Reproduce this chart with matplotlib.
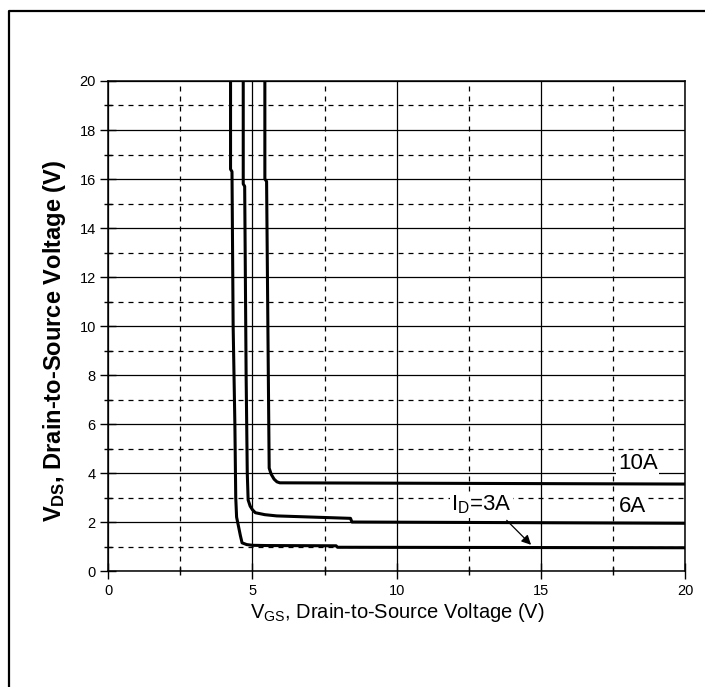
import matplotlib
matplotlib.use("Agg")
import matplotlib.pyplot as plt
from matplotlib.lines import Line2D
from matplotlib.ticker import MultipleLocator

plt.rcParams['font.family'] = ['Liberation Sans', 'DejaVu Sans']
plt.rcParams['mathtext.fontset'] = 'custom'
plt.rcParams['mathtext.rm'] = 'Liberation Sans'
plt.rcParams['mathtext.bf'] = 'Liberation Sans:bold'

# curves: V_GS (x) vs V_DS (y)
vgs_3a = [4.24, 4.24, 4.29, 4.33, 4.39, 4.42, 4.45, 4.52, 4.58, 4.64, 4.8, 5.0, 5.5, 7.9, 7.95, 20.0]
vds_3a = [20.0, 16.4, 16.3, 10.0, 6.0, 3.0, 2.2, 1.8, 1.45, 1.15, 1.08, 1.05, 1.04, 1.03, 0.97, 0.95]

vgs_6a = [4.68, 4.68, 4.73, 4.78, 4.82, 4.85, 4.92, 5.0, 5.1, 5.43, 5.84, 8.4, 8.45, 20.0]
vds_6a = [20.0, 15.8, 15.7, 8.0, 4.0, 2.9, 2.65, 2.5, 2.38, 2.3, 2.25, 2.15, 2.0, 1.95]

vgs_10a = [5.43, 5.43, 5.49, 5.55, 5.58, 5.65, 5.75, 5.85, 5.95, 20.0]
vds_10a = [20.0, 16.0, 15.9, 8.0, 4.2, 3.95, 3.75, 3.64, 3.6, 3.55]

fig = plt.figure(figsize=(7.05, 6.87), dpi=100)
ax = fig.add_axes([0.1536, 0.1688, 0.818, 0.7133])

# outer frame of the figure (only left and top edges are visible)
fig.add_artist(Line2D([9 / 705, 9 / 705, 1.02], [-0.02, 1 - 11 / 687, 1 - 11 / 687],
                      transform=fig.transFigure, color='black', lw=1.6))

for xs, ys in [(vgs_3a, vds_3a), (vgs_6a, vds_6a), (vgs_10a, vds_10a)]:
    ax.plot(xs, ys, color='black', lw=2.2, zorder=2.5)

ax.set_xlim(0, 20)
ax.set_ylim(0, 20)
ax.xaxis.set_major_locator(MultipleLocator(5))
ax.xaxis.set_minor_locator(MultipleLocator(2.5))
ax.yaxis.set_major_locator(MultipleLocator(2))
ax.yaxis.set_minor_locator(MultipleLocator(1))

ax.grid(which='major', color='black', lw=0.9, zorder=1)
ax.grid(which='minor', color='black', lw=0.9, linestyle=(0, (4, 4)), zorder=1)
ax.set_axisbelow(True)

ax.tick_params(which='major', direction='inout', length=12, width=1, labelsize=10.5, pad=3, colors='black')
ax.tick_params(which='minor', direction='inout', length=6, width=1)
for s in ax.spines.values():
    s.set_linewidth(1.1)

fig.text(55 / 705, 1 - 341 / 687, r'$\mathregular{V_{DS}}$, Drain-to-Source Voltage (V)',
         rotation=90, ha='center', va='center', fontsize=17, fontweight='bold')
fig.text(397 / 705, 1 - 613 / 687, r'$\mathregular{V_{GS}}$, Drain-to-Source Voltage (V)',
         ha='center', va='center', fontsize=14.5)

box = dict(facecolor='white', edgecolor='none', pad=1)
ax.text(17.67, 4.37, '10A', fontsize=16, va='center', ha='left', bbox=box, zorder=3)
ax.text(17.7, 2.62, '6A', fontsize=16, va='center', ha='left', bbox=box, zorder=3)
ax.text(11.9, 2.69, r'$\mathregular{I_D}$=3A', fontsize=16, va='center', ha='left',
        bbox=box, zorder=3)
ax.annotate('', xy=(14.73, 0.99), xytext=(13.75, 2.15),
            arrowprops=dict(arrowstyle='-|>', color='black', lw=0.9, mutation_scale=14),
            zorder=4)

fig.savefig('out.png', dpi=100)
